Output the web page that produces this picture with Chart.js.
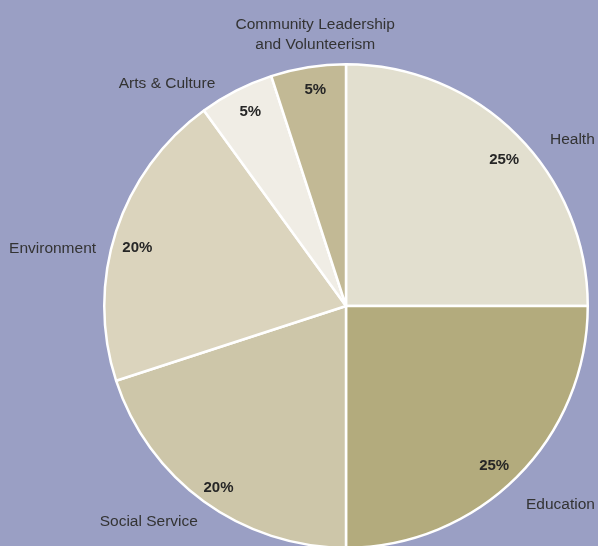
<!DOCTYPE html>
<html>
<head>
<meta charset="utf-8">
<script src="https://cdn.jsdelivr.net/npm/chart.js@4/dist/chart.umd.min.js"></script>
<style>
  html, body { margin: 0; padding: 0; background: #9a9fc4; overflow: hidden; }
  #wrap { width: 598px; height: 546px; overflow: hidden; }
  canvas { display: block; }
</style>
</head>
<body>
<div id="wrap"><canvas id="pie" width="598" height="560"></canvas></div>
<script>
// Share of giving by focus area (percent)
const categories = [
  'Health',
  'Education',
  'Social Service',
  'Environment',
  'Arts & Culture',
  ['Community Leadership', 'and Volunteerism']
];
const shares = [25, 25, 20, 20, 5, 5];
const sliceColors = ['#e2dfcf', '#b3ab7d', '#cdc6a9', '#dbd4bd', '#f0ede5', '#c2b995'];

// Where each category name sits relative to the slice's rim point
const nameLayout = [
  { align: 'left',   dx: 33,  dy: 5 },
  { align: 'left',   dx: 9,   dy: 28 },
  { align: 'right',  dx: -6,  dy: 20 },
  { align: 'right',  dx: -20, dy: 17 },
  { align: 'right',  dx: -21, dy: -7 },
  { align: 'center', dx: 7,   dy: -43 }
];
// Small nudges for the percentage labels inside the slices
const pctNudge = [
  [6, 6], [-4, 8], [-1, 8], [-4, 8], [2, -2], [3, -4]
];

const sliceLabels = {
  id: 'sliceLabels',
  afterDatasetsDraw(chart) {
    const ctx = chart.ctx;
    const arcs = chart.getDatasetMeta(0).data;
    ctx.save();
    ctx.textBaseline = 'middle';
    arcs.forEach((arc, i) => {
      const p = arc.getProps(['x', 'y', 'startAngle', 'endAngle', 'outerRadius'], true);
      const mid = (p.startAngle + p.endAngle) / 2;
      const cos = Math.cos(mid), sin = Math.sin(mid);

      // percentage inside the slice
      const r = p.outerRadius * 0.89;
      ctx.font = 'bold 15px "Liberation Sans", Arial, sans-serif';
      ctx.fillStyle = '#262626';
      ctx.textAlign = 'center';
      ctx.fillText(shares[i] + '%', p.x + cos * r + pctNudge[i][0], p.y + sin * r + pctNudge[i][1]);

      // category name outside the pie
      const lay = nameLayout[i];
      const rx = p.x + cos * p.outerRadius + lay.dx;
      const ry = p.y + sin * p.outerRadius + lay.dy;
      ctx.font = '15.5px "Liberation Sans", Arial, sans-serif';
      ctx.fillStyle = '#333333';
      ctx.textAlign = lay.align;
      const lines = Array.isArray(categories[i]) ? categories[i] : [categories[i]];
      lines.forEach((ln, k) => ctx.fillText(ln, rx, ry + k * 20));
    });
    ctx.restore();
  }
};

new Chart(document.getElementById('pie'), {
  type: 'pie',
  data: {
    labels: categories.map(c => Array.isArray(c) ? c.join(' ') : c),
    datasets: [{
      data: shares,
      backgroundColor: sliceColors,
      borderColor: '#ffffff',
      borderWidth: 2.5,
      hoverOffset: 0
    }]
  },
  options: {
    responsive: false,
    animation: false,
    events: [],
    layout: { padding: { left: 103, right: 9, top: 63, bottom: 11 } },
    plugins: {
      legend: { display: false },
      tooltip: { enabled: false }
    }
  },
  plugins: [sliceLabels]
});
</script>
</body>
</html>
